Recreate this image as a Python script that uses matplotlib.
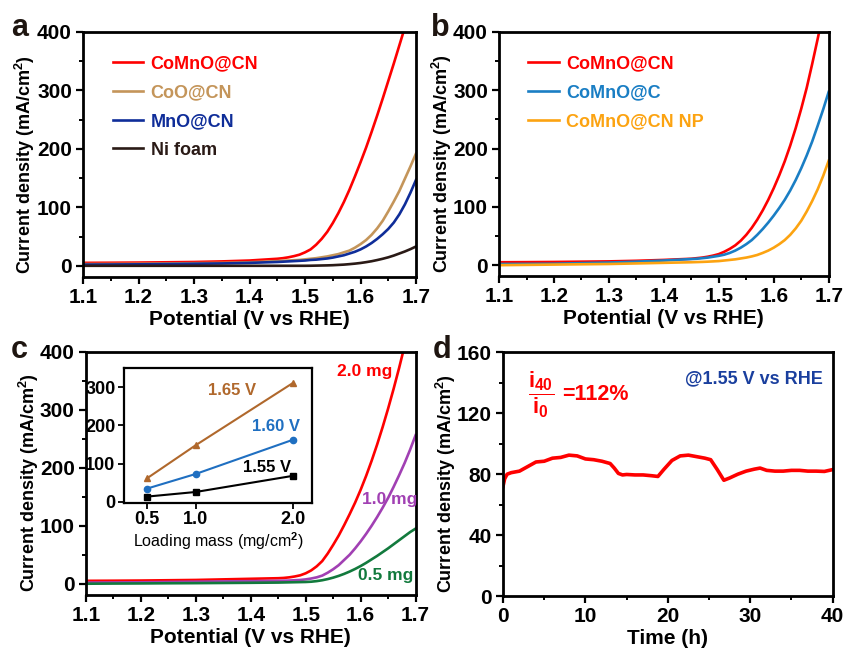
import numpy as np
import matplotlib
matplotlib.use("Agg")
import matplotlib.pyplot as plt
from matplotlib.ticker import MultipleLocator

plt.rcParams['font.family'] = ['Liberation Sans', 'DejaVu Sans']
plt.rcParams['font.weight'] = 'bold'
plt.rcParams['axes.labelweight'] = 'bold'
plt.rcParams['mathtext.fontset'] = 'custom'
plt.rcParams['mathtext.rm'] = 'Liberation Sans:bold'
plt.rcParams['mathtext.it'] = 'Liberation Sans:bold'
plt.rcParams['mathtext.bf'] = 'Liberation Sans:bold'

# shared potential grid (V vs RHE)
pot = [1.10, 1.15, 1.20, 1.25, 1.30, 1.35, 1.40,
       1.45, 1.46, 1.47, 1.48, 1.49, 1.50, 1.51, 1.52, 1.53, 1.54, 1.55, 1.56, 1.57,
       1.58, 1.59, 1.60, 1.61, 1.62, 1.63, 1.64, 1.65, 1.66, 1.67, 1.68, 1.69, 1.70]

# panel a - LSV of catalysts (mA/cm2)
comno_cn_a = [5, 5.2, 5.5, 6, 6.5, 7.5, 9,
              12, 13, 14.5, 16.5, 19, 23, 28, 36, 46, 58, 73, 90, 109,
              130, 153, 177, 202, 229, 257, 286, 316, 346, 377, 408]
coo_cn = [3, 3.2, 3.5, 4, 4.5, 5, 6,
          8, 8.5, 9, 9.5, 10, 11, 12, 13, 14.5, 16, 18, 20, 23,
          26, 31, 37, 44, 53, 64, 77, 93, 110, 128, 149, 170, 192]
mno_cn = [2, 2.2, 2.5, 3, 3.5, 4, 5,
          6.5, 7, 7.5, 8, 8.5, 9, 10, 10.5, 11.5, 12.5, 14, 16, 18,
          21, 24, 28, 33, 39, 46, 54, 63, 74, 88, 105, 125, 147]
ni_foam = [0, 0, 0, 0, 0, 0, 0,
           0, 0, 0, 0, 0, 0, 0.1, 0.3, 0.5, 0.7, 1, 1.5, 2,
           2.8, 3.7, 4.8, 6.2, 7.8, 9.8, 12, 14.5, 17.5, 21, 24.5, 28.5, 33]

# panel b - control samples
comno_cn_b = [5, 5.2, 5.5, 6, 6.5, 7.5, 9,
              11, 12, 13, 14.5, 16.5, 19, 23, 28, 34, 42, 52, 64, 78,
              94, 112, 132, 154, 178, 205, 235, 268, 304, 345, 388, 432]
comno_c = [2, 2.2, 2.5, 3.5, 4.5, 6, 8,
           10.5, 11, 12, 13, 14.5, 16, 18, 21, 25, 30, 36, 43, 52,
           62, 73, 85, 98, 112, 128, 146, 166, 188, 212, 239, 267, 297]
comno_cn_np = [0, 0.5, 1, 1.5, 2, 3, 4,
               5, 5.3, 5.6, 6, 6.5, 7, 8, 9, 10, 11.5, 13, 15, 17.5,
               21, 25, 30, 36, 43, 52, 63, 76, 92, 110, 130, 153, 179]

# panel c - loading mass of CoMnO@CN
load_20 = [5, 5.2, 5.5, 6, 6.5, 7.5, 8.5,
           9.5, 10, 11, 12.5, 14.5, 18, 23, 30, 39, 52, 67, 83, 101,
           120, 140, 162, 186, 212, 240, 270, 302, 336, 372, 410]
load_10 = [2, 2.2, 2.5, 3, 3.5, 4, 4.5,
           5, 5.2, 5.5, 6, 6.5, 7.5, 9, 11, 14, 19, 25, 32, 41,
           50, 61, 73, 86, 100, 115, 131, 148, 167, 187, 208, 231, 256]
load_05 = [0, 0.3, 0.5, 0.8, 1, 1.3, 1.6,
           2, 2.2, 2.4, 2.6, 2.8, 3, 3.5, 4.5, 6, 8, 10.5, 13.5, 17,
           21, 25.5, 30.5, 36, 42, 48, 54.5, 61, 68, 75, 82, 89, 95]

# inset - current density vs loading mass
mass = [0.5, 1.0, 2.0]
j_165 = [62, 148, 310]
j_160 = [35, 73, 162]
j_155 = [14, 26, 68]

# panel d - stability at 1.55 V
time_h = [0, 0.2, 0.5, 1, 2, 3, 4, 5, 6, 7, 8, 9, 10, 11, 12, 13, 13.5, 14, 14.5, 15,
          16, 17, 18, 18.8, 19.5, 20.5, 21.5, 22.5, 23.5, 24.5, 25.2, 26, 26.8, 27.5, 28.5,
          29.5, 30.5, 31.2, 32, 33, 34, 35, 36, 37, 38, 39, 40]
current = [72, 77, 80, 81, 82, 85, 88, 88.5, 90.5, 91, 92.5, 92, 90, 89.5, 88.5, 87, 84, 80.5,
           79.5, 79.8, 79.5, 79.5, 79, 78.5, 83, 89, 92, 92.5, 91.5, 90.5, 89.5, 83, 76, 77.5,
           80, 82, 83.3, 84, 82.5, 82, 82, 82.5, 82.5, 82, 82, 81.8, 83]

RED = '#fe0000'
lw = 1.9
ylab = 'Current density (mA/cm$^{2}$)'


def style_ax(ax, minor_x, minor_y, fs=15):
    for s in ax.spines.values():
        s.set_linewidth(2)
    ax.tick_params(which='major', direction='out', length=5, width=1.6, labelsize=fs, pad=3)
    ax.tick_params(which='minor', direction='out', length=3, width=1.4)
    ax.xaxis.set_minor_locator(MultipleLocator(minor_x))
    ax.yaxis.set_minor_locator(MultipleLocator(minor_y))


def set_ylab(ax):
    ax.set_ylabel(ylab, fontsize=13)
    ax.yaxis.set_label_coords(-0.137, 0.46)


def lsv_axes(ax):
    ax.set_xlim(1.1, 1.7)
    ax.set_ylim(-19, 400)
    ax.xaxis.set_major_locator(MultipleLocator(0.1))
    ax.yaxis.set_major_locator(MultipleLocator(100))
    style_ax(ax, 0.05, 50)
    ax.set_xlabel('Potential (V vs RHE)', fontsize=15, labelpad=2)
    set_ylab(ax)


fig = plt.figure(figsize=(8.43, 6.5), dpi=100)
ax_a = fig.add_axes([0.0985, 0.574, 0.395, 0.377])
ax_b = fig.add_axes([0.592, 0.575, 0.391, 0.376])
ax_c = fig.add_axes([0.102, 0.085, 0.391, 0.374])
ax_d = fig.add_axes([0.5967, 0.083, 0.391, 0.375])
ax_in = fig.add_axes([0.147, 0.226, 0.223, 0.208])

# a
ax_a.plot(pot[:len(comno_cn_a)], comno_cn_a, color=RED, lw=lw, label='CoMnO@CN')
ax_a.plot(pot, coo_cn, color='#c4955a', lw=lw, label='CoO@CN')
ax_a.plot(pot, mno_cn, color='#0f2d99', lw=lw, label='MnO@CN')
ax_a.plot(pot, ni_foam, color='#2a1a16', lw=lw, label='Ni foam')
lsv_axes(ax_a)
ax_a.legend(loc='upper left', bbox_to_anchor=(0.04, 0.97), frameon=False, fontsize=13,
            labelcolor='linecolor', handlelength=1.7, handletextpad=0.4, labelspacing=0.65)

# b
ax_b.plot(pot[:len(comno_cn_b)], comno_cn_b, color=RED, lw=lw, label='CoMnO@CN')
ax_b.plot(pot, comno_c, color='#1a7ec4', lw=lw, label='CoMnO@C')
ax_b.plot(pot, comno_cn_np, color='#fca311', lw=lw, label='CoMnO@CN NP')
lsv_axes(ax_b)
ax_b.legend(loc='upper left', bbox_to_anchor=(0.04, 0.97), frameon=False, fontsize=13,
            labelcolor='linecolor', handlelength=1.7, handletextpad=0.4, labelspacing=0.65)

# c
ax_c.plot(pot[:len(load_20)], load_20, color=RED, lw=lw)
ax_c.plot(pot, load_10, color='#a140b3', lw=lw)
ax_c.plot(pot, load_05, color='#127a3d', lw=lw)
lsv_axes(ax_c)
ax_c.text(1.607, 365, '2.0 mg', color=RED, fontsize=12.5, ha='center', va='center')
ax_c.text(1.653, 145, '1.0 mg', color='#a140b3', fontsize=12.5, ha='center', va='center')
ax_c.text(1.645, 14, '0.5 mg', color='#127a3d', fontsize=12.5, ha='center', va='center')

# inset
ax_in.plot(mass, j_165, color='#b0682c', lw=1.5, marker='^', ms=5)
ax_in.plot(mass, j_160, color='#1f6fc1', lw=1.5, marker='o', ms=4.5)
ax_in.plot(mass, j_155, color='black', lw=1.5, marker='s', ms=4.5)
ax_in.set_xlim(0.26, 2.2)
ax_in.set_ylim(-3, 350)
ax_in.set_xticks(mass)
ax_in.set_xticklabels(['0.5', '1.0', '2.0'])
ax_in.set_yticks([0, 100, 200, 300])
for s in ax_in.spines.values():
    s.set_linewidth(1.6)
ax_in.tick_params(direction='out', length=4, width=1.3, labelsize=13, pad=2)
ax_in.set_xlabel('Loading mass (mg/cm$^{2}$)', fontsize=11.5, fontweight='medium', labelpad=1)
ax_in.text(1.376, 290, '1.65 V', color='#b0682c', fontsize=12, ha='center', va='center')
ax_in.text(1.83, 198, '1.60 V', color='#1f6fc1', fontsize=12, ha='center', va='center')
ax_in.text(1.74, 89, '1.55 V', color='black', fontsize=12, ha='center', va='center')

# d
ax_d.plot(time_h, current, color=RED, lw=2.6)
ax_d.set_xlim(0, 40)
ax_d.set_ylim(0, 160)
ax_d.xaxis.set_major_locator(MultipleLocator(10))
ax_d.yaxis.set_major_locator(MultipleLocator(40))
style_ax(ax_d, 5, 20)
ax_d.set_xlabel('Time (h)', fontsize=15, labelpad=2)
set_ylab(ax_d)
ax_d.text(0.115, 0.826, r'$\dfrac{i_{40}}{i_{0}}$', transform=ax_d.transAxes, color=RED,
          fontsize=16, ha='center', va='center')
ax_d.text(0.179, 0.826, '=112%', transform=ax_d.transAxes, color=RED,
          fontsize=15.5, ha='left', va='center')
ax_d.text(0.97, 0.893, '@1.55 V vs RHE', transform=ax_d.transAxes, color='#1a3f9e',
          fontsize=13, ha='right', va='center')

# panel letters
for x, y, s in [(0.013, 0.957, 'a'), (0.511, 0.957, 'b'), (0.013, 0.462, 'c'), (0.513, 0.462, 'd')]:
    fig.text(x, y, s, fontsize=22, fontweight='bold', color='#1e1510', ha='left', va='center')

fig.savefig('out.png', dpi=100)
